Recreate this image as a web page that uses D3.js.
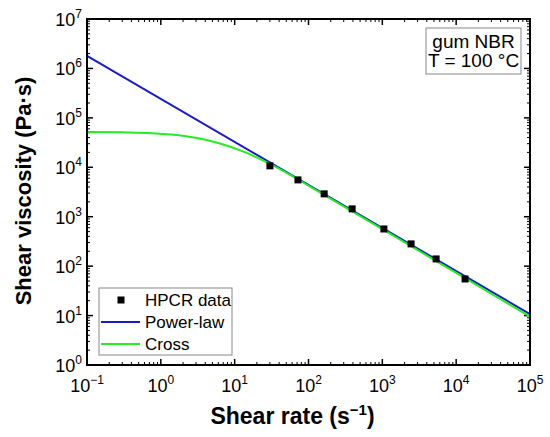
<!DOCTYPE html>
<html>
<head>
<meta charset="utf-8">
<script src="https://cdn.jsdelivr.net/npm/d3@7"></script>
<style>
  body { margin: 0; background: #fff; }
  text { font-family: "Liberation Sans", Arial, sans-serif; }
</style>
</head>
<body>
<script>
// データ
var hpcrRate = [30, 72, 163, 390, 1050, 2450, 5350, 13200];
var hpcrVisc = [10700, 5560, 2900, 1440, 565, 282, 140, 55];

var powerRate = [0.1, 100000];
var powerVisc = [1.8e6, 10.7];

var crossRate = [0.1, 0.3, 0.76, 2.1, 6, 14, 26, 48, 100, 1000, 10000, 100000];
var crossVisc = [52000, 51000, 49000, 43000, 31000, 20000, 13000, 8100, 4250, 560, 73, 9.5];

var xTickExp = [-1, 0, 1, 2, 3, 4, 5];
var yTickExp = [0, 1, 2, 3, 4, 5, 6, 7];

var legendNames = ["HPCR data", "Power-law", "Cross"];
var noteLines = ["gum NBR", "T = 100 °C"];

// =======================================================
// SVG ステージ
// =======================================================
var width = 550;
var height = 437;
var margin = { top: 19, right: 20, bottom: 72, left: 87 };
var w = width - margin.left - margin.right;
var h = height - margin.top - margin.bottom;

var svg = d3.select("body").append("svg")
    .attr("width", width)
    .attr("height", height);

var g = svg.append("g")
    .attr("transform", "translate(" + margin.left + "," + margin.top + ")");

var x = d3.scaleLog().domain([0.1, 1e5]).range([0, w]);
var y = d3.scaleLog().domain([1, 1e7]).range([h, 0]);

// 目盛り（内向き）
var minorX = [];
xTickExp.slice(0, -1).forEach(function (e) {
    for (var k = 2; k <= 9; k++) minorX.push(k * Math.pow(10, e));
});
var minorY = [];
yTickExp.slice(0, -1).forEach(function (e) {
    for (var k = 2; k <= 9; k++) minorY.push(k * Math.pow(10, e));
});
var majorX = xTickExp.map(function (e) { return Math.pow(10, e); });
var majorY = yTickExp.map(function (e) { return Math.pow(10, e); });

var ticks = g.append("g").attr("stroke", "#000");
function tickSet(vals, len, sw) {
    vals.forEach(function (v) {
        var px = x(v);
        ticks.append("line").attr("x1", px).attr("x2", px).attr("y1", h).attr("y2", h - len).attr("stroke-width", sw);
        ticks.append("line").attr("x1", px).attr("x2", px).attr("y1", 0).attr("y2", len).attr("stroke-width", sw);
    });
}
function tickSetY(vals, len, sw) {
    vals.forEach(function (v) {
        var py = y(v);
        ticks.append("line").attr("y1", py).attr("y2", py).attr("x1", 0).attr("x2", len).attr("stroke-width", sw);
        ticks.append("line").attr("y1", py).attr("y2", py).attr("x1", w).attr("x2", w - len).attr("stroke-width", sw);
    });
}
tickSet(majorX, 6, 1.5);
tickSet(minorX, 3, 1);
tickSetY(majorY, 6, 1.5);
tickSetY(minorY, 3, 1);

// 目盛りラベル
majorX.forEach(function (v, i) {
    var t = g.append("text")
        .attr("x", x(v))
        .attr("y", h + 27)
        .attr("text-anchor", "middle")
        .attr("font-size", 18)
        .attr("fill", "#000");
    t.append("tspan").text("10");
    t.append("tspan").attr("dy", -8).attr("font-size", 12)
        .text(xTickExp[i] < 0 ? "\u2212" + (-xTickExp[i]) : xTickExp[i]);
});
majorY.forEach(function (v, i) {
    var t = g.append("text")
        .attr("x", -5)
        .attr("y", y(v) + 7)
        .attr("text-anchor", "end")
        .attr("font-size", 18)
        .attr("fill", "#000");
    t.append("tspan").text("10");
    t.append("tspan").attr("dy", -8).attr("font-size", 12).text(yTickExp[i]);
});

// 軸タイトル
var xt = svg.append("text")
    .attr("x", margin.left + w / 2 - 16)
    .attr("y", 424)
    .attr("text-anchor", "middle")
    .attr("font-size", 23)
    .attr("font-weight", "bold");
xt.append("tspan").text("Shear rate (s");
xt.append("tspan").attr("dy", -9).attr("font-size", 15).text("\u22121");
xt.append("tspan").attr("dy", 9).text(")");

svg.append("text")
    .attr("transform", "translate(31,191) rotate(-90)")
    .attr("text-anchor", "middle")
    .attr("font-size", 22)
    .attr("font-weight", "bold")
    .text("Shear viscosity (Pa\u00b7s)");

// 曲線
var line = d3.line()
    .x(function (d) { return x(d[0]); })
    .y(function (d) { return y(d[1]); })
    .curve(d3.curveMonotoneX);

g.append("path")
    .datum(powerRate.map(function (r, i) { return [r, powerVisc[i]]; }))
    .attr("d", line)
    .attr("fill", "none")
    .attr("stroke", "#1a1acc")
    .attr("stroke-width", 2);

g.append("path")
    .datum(crossRate.map(function (r, i) { return [r, crossVisc[i]]; }))
    .attr("d", line)
    .attr("fill", "none")
    .attr("stroke", "#22ee22")
    .attr("stroke-width", 2);

// HPCR データ点
g.selectAll("rect.pt")
    .data(hpcrRate.map(function (r, i) { return [r, hpcrVisc[i]]; }))
    .enter()
    .append("rect")
    .attr("class", "pt")
    .attr("x", function (d) { return x(d[0]) - 3.5; })
    .attr("y", function (d) { return y(d[1]) - 3.5; })
    .attr("width", 7)
    .attr("height", 7)
    .attr("fill", "#000");

// 枠
g.append("rect")
    .attr("width", w)
    .attr("height", h)
    .attr("fill", "none")
    .attr("stroke", "#000")
    .attr("stroke-width", 2);

// 凡例
var lg = svg.append("g").attr("transform", "translate(99,288)");
lg.append("rect")
    .attr("width", 133).attr("height", 67)
    .attr("fill", "#fff").attr("stroke", "#888").attr("stroke-width", 1);
var legendColors = ["#000", "#1a1acc", "#22ee22"];
legendNames.forEach(function (name, i) {
    var cy = 12 + i * 22;
    if (i === 0) {
        lg.append("rect").attr("x", 18.5).attr("y", cy - 3.5).attr("width", 7).attr("height", 7).attr("fill", "#000");
    } else {
        lg.append("line").attr("x1", 2).attr("x2", 41).attr("y1", cy).attr("y2", cy)
            .attr("stroke", legendColors[i]).attr("stroke-width", 2);
    }
    lg.append("text").attr("x", 46).attr("y", cy + 6).attr("font-size", 17).text(name);
});

// 注記ボックス
var nb = svg.append("g").attr("transform", "translate(426,28)");
nb.append("rect")
    .attr("width", 95).attr("height", 46)
    .attr("fill", "#fff").attr("stroke", "#888").attr("stroke-width", 1);
noteLines.forEach(function (s, i) {
    nb.append("text").attr("x", 47.5).attr("y", 20 + i * 19)
        .attr("text-anchor", "middle").attr("font-size", 19).text(s);
});
</script>
</body>
</html>
